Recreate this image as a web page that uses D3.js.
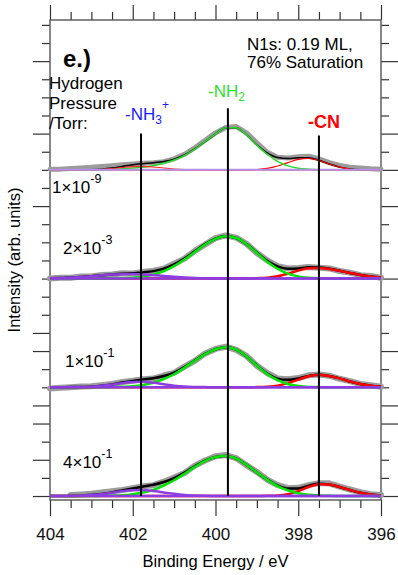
<!DOCTYPE html>
<html><head><meta charset="utf-8">
<script src="https://cdn.jsdelivr.net/npm/d3@7"></script>
<style>
body{margin:0;background:#fff}
svg text{font-family:"Liberation Sans",Arial,Helvetica,sans-serif}
</style>
</head><body>
<svg id="chart" width="398" height="575"></svg>
<script>
// ---------- data ----------
const energies = [404,403.75,403.5,403.25,403,402.75,402.5,402.25,402,401.75,401.5,401.25,401,400.75,400.5,400.25,400,399.75,399.5,399.25,399,398.75,398.5,398.25,398,397.75,397.5,397.25,397,396.75,396.5,396.25,396];
const pressureLabels = [["1×10","-9"],["2×10","-3"],["1×10","-1"],["4×10","-1"]];
const offsets = [180,120,60,0];

// spectrum 1 : 1e-9 Torr
const s1Data = [0.3,0.4,0.7,1.0,1.4,1.9,2.3,2.8,3.2,3.6,3.9,4.5,6.1,8.6,12.2,16.3,20.4,23.4,23.9,20.4,14.9,9.7,6.9,6.6,7.2,7.5,6.1,4.0,2.4,1.4,1.0,0.6,0.4];
const s1NH2  = [0,0,0,0,0,0.1,0.3,0.6,1.0,1.5,2.3,3.6,5.4,8.0,11.5,15.7,19.9,23.3,23.2,19.3,13.5,8.6,4.7,2.2,0.9,0.4,0.1,0,0,0,0,0,0];
const s1CN   = [0,0,0,0,0,0,0,0,0,0,0,0,0,0,0,0,0,0,0,0,0.2,0.8,2.1,4.0,5.8,6.3,5.2,3.2,1.5,0.5,0.1,0,0];
const s1NH3  = [0,0,0,0,0.1,0.3,0.7,1.3,1.8,1.9,1.6,1.0,0.5,0.2,0.1,0,0,0,0,0,0,0,0,0,0,0,0,0,0,0,0,0,0];
// spectrum 2 : 2e-3 Torr
const s2Data = [0.0,0.5,0.4,1.1,1.2,2.0,2.2,2.9,2.8,3.6,4.3,5.4,8.2,11.0,15.3,18.8,22.3,23.8,22.6,19.2,14.1,10.1,6.9,5.6,5.9,6.4,6.0,5.6,4.2,3.3,1.9,1.4,0.5];
const s2NH2  = [0,0,0,0,0,0,0.1,0.2,0.5,1.1,2.2,4.1,6.9,10.5,14.7,18.8,21.9,23.3,22.4,19.0,14.2,9.3,5.4,2.7,1.2,0.5,0.2,0.1,0,0,0,0,0];
const s2CN   = [0,0,0,0,0,0,0,0,0,0,0,0,0,0,0,0,0,0,0,0,0.2,0.5,1.3,2.7,4.4,5.7,5.9,5.3,4.3,3.1,2.0,1.2,0.6];
const s2NH3  = [0.2,0.3,0.6,0.9,1.3,1.8,2.2,2.4,2.5,2.3,1.9,1.4,1.0,0.6,0.3,0.2,0.1,0,0,0,0,0,0,0,0,0,0,0,0,0,0,0,0];
// spectrum 3 : 1e-1 Torr
const s3Data = [-0.6,-0.3,0.0,0.4,0.6,1.2,1.8,2.9,3.6,4.5,4.8,6.5,8.0,11.4,14.6,18.7,21.2,22.4,20.6,17.3,11.9,7.9,4.9,4.4,5.1,6.6,7.1,6.4,4.7,3.4,1.9,1.1,0.3];
const s3NH2  = [0,0,0,0,0,0,0.1,0.3,0.6,1.3,2.5,4.5,7.2,10.8,14.6,18.3,21.0,22.1,20.8,17.0,12.0,7.3,3.9,1.8,0.7,0.2,0.1,0,0,0,0,0,0];
const s3CN   = [0,0,0,0,0,0,0,0,0,0,0,0,0,0,0,0,0,0,0,0,0.1,0.3,0.9,2.3,4.2,6.1,6.8,6.2,4.9,3.2,1.8,0.9,0.4];
const s3NH3  = [0,0,0.1,0.1,0.3,0.8,1.5,2.3,2.9,3.0,2.5,1.7,0.9,0.4,0.2,0.1,0,0,0,0,0,0,0,0,0,0,0,0,0,0,0,0,0];
// spectrum 4 : 4e-1 Torr
const s4Data = [null,null,0.5,0.8,1.2,1.9,2.6,3.3,4.3,5.4,6.0,7.9,10.2,12.7,16.8,19.6,21.9,22.6,20.9,17.0,13.3,9.0,6.1,4.3,4.5,6.0,7.1,7.0,5.2,3.6,2.1,1.0,0.5];
const s4NH2  = [0,0,0,0,0,0.1,0.2,0.4,1.0,1.9,3.4,5.7,8.7,12.3,16.1,19.4,21.5,22.1,20.6,17.2,13.0,9.0,5.5,3.1,1.5,0.7,0.3,0.1,0,0,0,0,0];
const s4CN   = [0,0,0,0,0,0,0,0,0,0,0,0,0,0,0,0,0,0,0,0,0,0.1,0.3,1.0,2.7,5.0,6.5,6.3,5.0,3.3,1.8,0.8,0.3];
const s4NH3  = [0,0,0.1,0.2,0.6,1.0,1.8,2.7,3.2,3.3,2.8,2.0,1.2,0.6,0.3,0.1,0,0,0,0,0,0,0,0,0,0,0,0,0,0,0,0,0];

const spectraData = [s1Data,s2Data,s3Data,s4Data];
const spectraNH2 = [s1NH2,s2NH2,s3NH2,s4NH2];
const spectraCN = [s1CN,s2CN,s3CN,s4CN];
const spectraNH3 = [s1NH3,s2NH3,s3NH3,s4NH3];

const markerEnergies = [401.8, 399.7, 397.5];
const markerTops = [200, 214, 199];

const xMajor = [404,402,400,398,396];
const xMinor = [403.5,403,402.5,401.5,401,400.5,399.5,399,398.5,397.5,397,396.5];
const yTicks = [0,10,20,30,40,50,60,70,80,90,100,110,120,130,140,150,160,170,180,190,200,210,220,230,240,250,260];
const yMajorLeft = [0,20,40,50,80,90,160,200,240];
const yMajorRight = [0,40,50,80,120,160,180,200,240];

// ---------- drawing ----------
const svg = d3.select("#chart");
const L=50, R=381, T=20, B=500;
const x = d3.scaleLinear().domain([404,396]).range([L,R]);
const y = d3.scaleLinear().domain([-2.2,262.7]).range([B,T]);

const axisColor = "#333";
function clean(g){ g.select(".domain").remove(); g.attr("color",axisColor); g.selectAll("line").attr("stroke-width",1.2); }

// x axes
svg.append("g").attr("transform",`translate(0,${B})`)
  .call(d3.axisBottom(x).tickValues(xMajor).tickSize(16).tickPadding(12).tickFormat(d3.format("d")))
  .call(clean)
  .call(g=>g.selectAll("text").attr("font-size",17).attr("fill","#111").attr("font-family","Liberation Sans, Arial, sans-serif"));
svg.append("g").attr("transform",`translate(0,${B})`)
  .call(d3.axisBottom(x).tickValues(xMinor).tickSize(8).tickFormat("")).call(clean);
svg.append("g").attr("transform",`translate(0,${T})`)
  .call(d3.axisTop(x).tickValues(xMajor).tickSize(15).tickFormat("")).call(clean);
svg.append("g").attr("transform",`translate(0,${T})`)
  .call(d3.axisTop(x).tickValues(xMinor).tickSize(8).tickFormat("")).call(clean);

// y axes
const leftMinor = yTicks.filter(v=>!yMajorLeft.includes(v));
const rightMinor = yTicks.filter(v=>!yMajorRight.includes(v));
svg.append("g").attr("transform",`translate(${L},0)`)
  .call(d3.axisLeft(y).tickValues(yMajorLeft).tickSize(17).tickFormat("")).call(clean);
svg.append("g").attr("transform",`translate(${L},0)`)
  .call(d3.axisLeft(y).tickValues(leftMinor).tickSize(8).tickFormat("")).call(clean);
svg.append("g").attr("transform",`translate(${R},0)`)
  .call(d3.axisRight(y).tickValues(yMajorRight).tickSize(17).tickFormat("")).call(clean);
svg.append("g").attr("transform",`translate(${R},0)`)
  .call(d3.axisRight(y).tickValues(rightMinor).tickSize(8).tickFormat("")).call(clean);

// frame
svg.append("rect").attr("x",L).attr("y",T).attr("width",R-L).attr("height",B-T)
  .attr("fill","none").attr("stroke","#555").attr("stroke-width",1.4);

// spectra
const plot = svg.append("g");
function lineFor(vals, off, curve){
  return d3.line()
    .defined((d,i)=>vals[i]!==null)
    .x((d,i)=>x(energies[i]))
    .y((d,i)=>y(vals[i]+off))
    .curve(curve)(energies);
}
spectraData.forEach((dat,k)=>{
  const off = offsets[k];
  const top = k===0;
  const nh2 = spectraNH2[k], cn = spectraCN[k], nh3 = spectraNH3[k];
  const fit = energies.map((e,i)=>nh2[i]+cn[i]+nh3[i]);
  const g = plot.append("g");
  g.append("path").attr("d",lineFor(dat,off,d3.curveLinear))
    .attr("fill","none").attr("stroke","#9b9b9b").attr("stroke-width",top?5:6)
    .attr("stroke-linejoin","round").attr("stroke-linecap","round");
  g.append("path").attr("d",lineFor(fit,off,d3.curveMonotoneX))
    .attr("fill","none").attr("stroke","#000").attr("stroke-width",top?1.5:2.5);
  g.append("path").attr("d",lineFor(cn,off,d3.curveMonotoneX))
    .attr("fill","none").attr("stroke","#ff0000").attr("stroke-width",top?1.1:2.5);
  g.append("path").attr("d",lineFor(nh2,off,d3.curveMonotoneX))
    .attr("fill","none").attr("stroke",top?"#22dd22":"#00e600").attr("stroke-width",top?1.5:2.5);
  g.append("path").attr("d",lineFor(nh3,off,d3.curveMonotoneX))
    .attr("fill","none").attr("stroke",top?"#ff2020":"#8c3ce0").attr("stroke-width",top?1.1:2.5);
  g.append("line").attr("x1",x(404)).attr("x2",x(396)).attr("y1",y(off)).attr("y2",y(off))
    .attr("stroke",top?"#b690e6":"#8c3ce0").attr("stroke-width",top?2:2.5);
});

// vertical marker lines
markerEnergies.forEach((e,i)=>{
  svg.append("line").attr("x1",x(e)).attr("x2",x(e)).attr("y1",y(markerTops[i])).attr("y2",y(0))
    .attr("stroke","#000").attr("stroke-width",2);
});

// texts
const F = 17;
svg.append("text").attr("x",63).attr("y",67).attr("font-size",24).attr("font-weight","bold").text("e.)");
svg.append("text").attr("x",247).attr("y",50).attr("font-size",F).text("N1s: 0.19 ML,");
svg.append("text").attr("x",247).attr("y",68).attr("font-size",F).text("76% Saturation");
["Hydrogen","Pressure","/Torr:"].forEach((t,i)=>{
  svg.append("text").attr("x",49).attr("y",89+i*20).attr("font-size",F).text(t);
});
// peak labels
const t1 = svg.append("text").attr("x",125).attr("y",120).attr("font-size",F).attr("fill","#1a1aff");
t1.append("tspan").text("-NH");
t1.append("tspan").attr("font-size",12).attr("dy",4).text("3");
t1.append("tspan").attr("font-size",12).attr("dy",-15).text("+");
const t2 = svg.append("text").attr("x",208).attr("y",97).attr("font-size",F).attr("fill","#2ee02e");
t2.append("tspan").text("-NH");
t2.append("tspan").attr("font-size",12).attr("dy",4).text("2");
svg.append("text").attr("x",308).attr("y",128).attr("font-size",18).attr("font-weight","bold").attr("fill","#ff0000").text("-CN");

// pressure labels
const pPos = [[52,193],[63,254],[65,367],[63,468]];
pressureLabels.forEach((p,i)=>{
  const t = svg.append("text").attr("x",pPos[i][0]).attr("y",pPos[i][1]).attr("font-size",F);
  t.append("tspan").text(p[0]);
  t.append("tspan").attr("font-size",12.5).attr("dy",-10).text(p[1]);
});

// axis titles
svg.append("text").attr("x",(L+R)/2).attr("y",567).attr("text-anchor","middle").attr("font-size",16.5).text("Binding Energy / eV");
svg.append("text").attr("transform","translate(20,260) rotate(-90)").attr("text-anchor","middle").attr("font-size",16.5).text("Intensity (arb. units)");
</script>
</body></html>
